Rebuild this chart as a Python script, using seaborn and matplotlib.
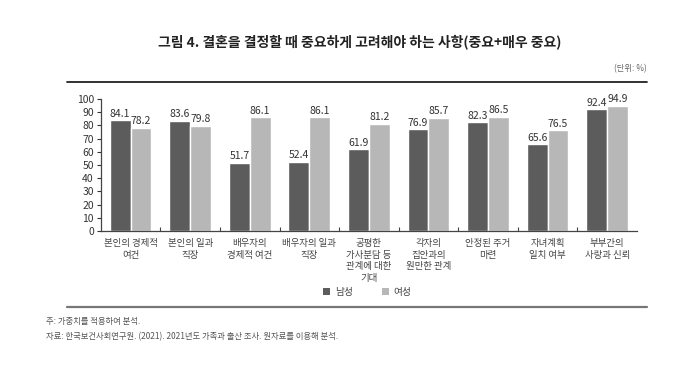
import pandas as pd
import matplotlib.pyplot as plt
import seaborn as sns
from matplotlib.lines import Line2D
from matplotlib.patches import Patch

# data
categories = ["본인의 경제적\n여건", "본인의 일과\n직장", "배우자의\n경제적 여건",
              "배우자의 일과\n직장", "공평한\n가사분담 등\n관계에 대한\n기대",
              "각자의\n집안과의\n원만한 관계", "안정된 주거\n마련", "자녀계획\n일치 여부",
              "부부간의\n사랑과 신뢰"]
male = [84.1, 83.6, 51.7, 52.4, 61.9, 76.9, 82.3, 65.6, 92.4]
female = [78.2, 79.8, 86.1, 86.1, 81.2, 85.7, 86.5, 76.5, 94.9]
groups = ["남성", "여성"]
colors = ["#5c5c5c", "#b7b7b7"]

df = pd.DataFrame({
    "항목": categories * 2,
    "성별": [groups[0]] * len(categories) + [groups[1]] * len(categories),
    "값": male + female,
})

sns.set_style("white")
plt.rcParams["font.family"] = ["Noto Sans CJK KR", "DejaVu Sans"]

fig = plt.figure(figsize=(7, 3.65), dpi=100)
ax = fig.add_axes([0.144, 0.367, 0.766, 0.362])

sns.barplot(data=df, x="항목", y="값", hue="성별", palette=colors,
            width=0.7, edgecolor="white", linewidth=1.0, ax=ax, legend=False)

for cont in ax.containers:
    ax.bar_label(cont, fmt="%.1f", padding=1, fontsize=7.5, color="#333333")

ax.set_ylim(0, 100)
ax.set_xlim(-0.5, len(categories) - 0.5)
ax.set_yticks(range(0, 101, 10))
ax.set_xlabel("")
ax.set_ylabel("")
ax.tick_params(axis="y", labelsize=7.5, colors="#333333", length=3, width=0.8,
               direction="out", pad=2, left=True)
ax.tick_params(axis="x", labelsize=6.8, colors="#444444", length=0, pad=6)
for lab in ax.get_xticklabels():
    lab.set_linespacing(1.35)
ax.set_xticks([i + 0.5 for i in range(len(categories) - 1)], minor=True)
ax.tick_params(axis="x", which="minor", length=3, width=0.8, direction="in",
               bottom=True, color="#444444")
for side in ["top", "right"]:
    ax.spines[side].set_visible(False)
for side in ["left", "bottom"]:
    ax.spines[side].set_color("#444444")
    ax.spines[side].set_linewidth(0.9)

handles = [Patch(facecolor=c, edgecolor="none") for c in colors]
fig.legend(handles, groups, loc="center", bbox_to_anchor=(0.525, 0.2), ncol=2,
           frameon=False, fontsize=7, handlelength=0.7, handleheight=0.7,
           columnspacing=3.0, handletextpad=0.5, labelcolor="#444444")

fig.text(0.514, 0.885, "그림 4. 결혼을 결정할 때 중요하게 고려해야 하는 사항(중요+매우 중요)",
         ha="center", va="center", fontsize=10, fontweight="bold", color="#222222")
fig.text(0.9, 0.813, "(단위: %)", ha="center", va="center", fontsize=6, color="#666666")

fig.add_artist(Line2D([0.096, 0.924], [0.776, 0.776], color="#222222", lw=1.3))
fig.add_artist(Line2D([0.096, 0.924], [0.159, 0.159], color="#777777", lw=1.6))

fig.text(0.065, 0.118, "주: 가중치를 적용하여 분석.", ha="left", va="center",
         fontsize=6, color="#555555")
fig.text(0.065, 0.077, "자료: 한국보건사회연구원. (2021). 2021년도 가족과 출산 조사. 원자료를 이용해 분석.",
         ha="left", va="center", fontsize=6, color="#555555")

fig.savefig("out.png", dpi=100, facecolor="white")
